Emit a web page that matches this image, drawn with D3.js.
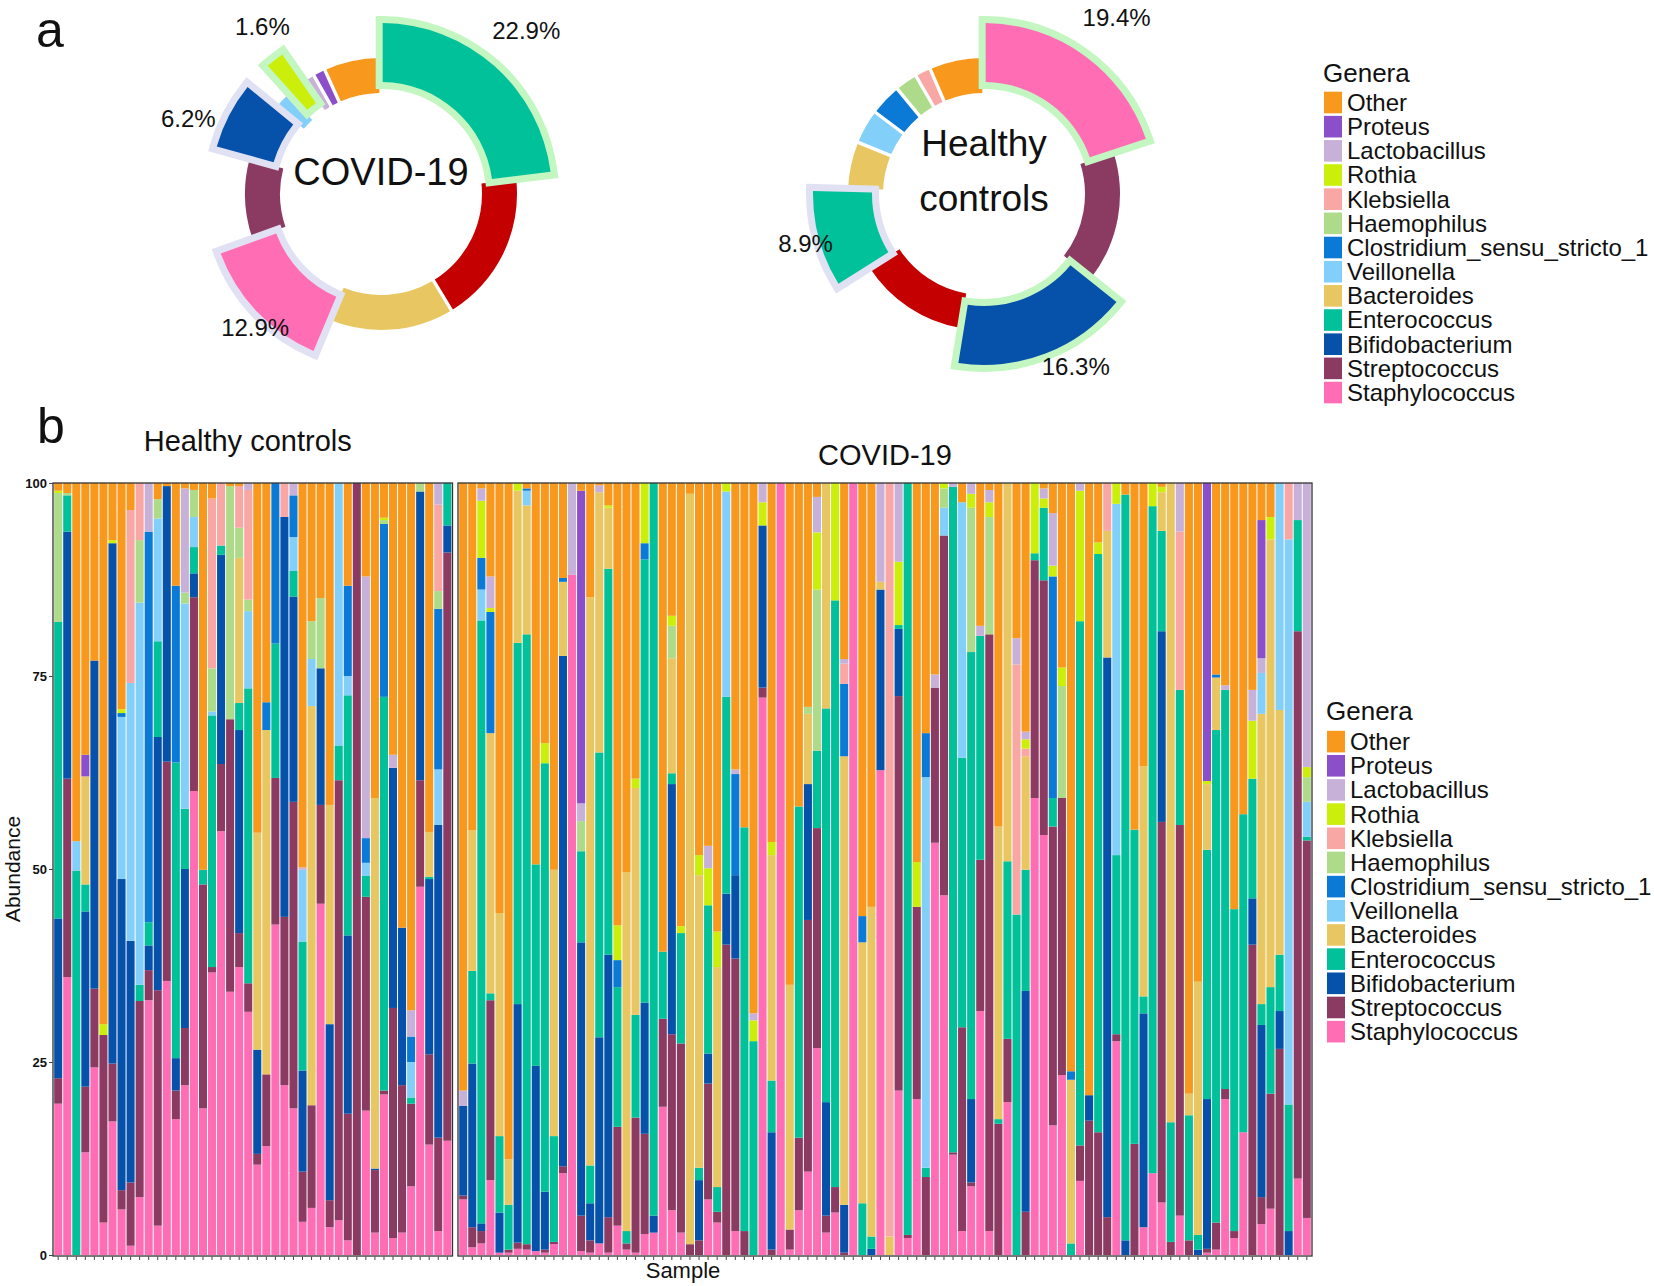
<!DOCTYPE html>
<html><head><meta charset="utf-8">
<script src="https://cdn.jsdelivr.net/npm/d3@7"></script>
<style>html,body{margin:0;padding:0;background:#fff} svg{display:block} text{font-family:"Liberation Sans",Arial,Helvetica,sans-serif;fill:#111}</style>
</head><body><svg id="chart" width="1654" height="1286"></svg>
<script>
// ---------------- DATA ----------------
// stacking order, bottom -> top
const genera = ["Staphylococcus","Streptococcus","Bifidobacterium","Enterococcus","Bacteroides","Veillonella","Clostridium_sensu_stricto_1","Haemophilus","Klebsiella","Rothia","Lactobacillus","Proteus","Other"];
const generaColors = ["#FF6EB4","#8B3A62","#0652AB","#00C19A","#E8C762","#82CFFA","#0A7AD6","#ADDB8A","#F9A7A5","#CBEF0B","#C8B1D9","#8B4FC9","#F8981D"];
const unlistedGenus = "Unlisted";
const unlistedColor = "#C40000";
const legendTitle = "Genera";

// panel a: donut charts (clockwise from 12 o'clock)
const covidPieGenera = ["Enterococcus","Unlisted","Bacteroides","Staphylococcus","Streptococcus","Bifidobacterium","Veillonella","Rothia","Lactobacillus","Proteus","Other"];
const covidPieValues = [22.9,18.0,14.7,12.9,9.5,6.2,2.0,1.6,1.0,1.0,6.4];
const covidHighlighted = {"Enterococcus":"green","Staphylococcus":"lavender","Bifidobacterium":"lavender","Rothia":"green"};

const healthyPieGenera = ["Staphylococcus","Streptococcus","Bifidobacterium","Unlisted","Enterococcus","Bacteroides","Veillonella","Clostridium_sensu_stricto_1","Haemophilus","Klebsiella","Other"];
const healthyPieValues = [19.4,15.3,16.3,13.0,8.9,5.3,3.6,3.3,2.2,1.4,6.0];
const healthyHighlighted = {"Staphylococcus":"green","Bifidobacterium":"green","Enterococcus":"lavender"};

// panel b: relative abundance per sample, columns follow `genera`
const healthyAbundance = [
[19.6,3.3,20.7,38.4,0,0,0,16.7,0,0.3,0,0,1.0],
[36,25.7,32,4.7,0,0,0,0.3,0,0,0,0,1.3],
[0,0,0,49.8,0,3.8,0,0,0,0,0,0,46.4],
[13.3,8.5,22.7,3.5,14,0,0,0,0,0,0,2.8,35.2],
[24.3,10.2,42.5,0,0,0,0,0,0,0,0,0,23],
[4.2,24.3,0,0,0,0,0,0,0,1.4,0,0,70.1],
[17.3,7.5,67.4,0,0,0,0,0,0,0.4,0,0,7.4],
[5.9,2.5,40.3,0,0,21,0.5,0,0,0.5,0,0,29.3],
[1.2,8.2,31.3,0,0,33.4,0,0,22.4,0,0,0,3.5],
[7.5,25.4,0,2.1,0,49.5,0,8.1,7.4,0,0,0,0],
[33,3.9,3.2,3,0,0,50.6,0,0,0,6.3,0,0],
[3.8,30.5,32.8,12.4,0,15.9,0,2.5,0,0,0,0,2.1],
[35.5,28.4,35.7,0,0,0,0,0,0,0,0,0,0.4],
[17.6,3.7,4.2,38.3,0,0,22.9,0,0,0,0,0,13.3],
[22,7.4,20.6,7.8,0,26.6,0,1.4,0,0,13.5,0,0.7],
[60.1,25.1,3.1,3.4,0,3.9,0,3.5,0,0,0,0,0.9],
[19,29,0,1.9,0,0,0,0,0,0,0,0,50.1],
[36.6,0.7,0,32.6,0,0.5,0,5.6,22,0,0,0,2],
[54.9,8.7,27.1,1.2,0,0,0,0,8.1,0,0,0,0],
[34.1,35.3,0,0,0,0,0,30.2,0,0,0,0,0.4],
[37.3,4.4,26.3,3.5,18.8,0,0,3.9,5.4,0,0,0,0.4],
[31.5,3.7,0,38.2,0,10,0,1.5,14.2,0,0.9,0,0],
[11.7,1.4,13.5,0,28.1,0,0,0,0,0,0,0,45.3],
[14.1,9.3,0,0,44.6,0,3.6,0,0,0,0,0,28.4],
[42.8,19,0,17.4,0,0,20.8,0,0,0,0,0,0],
[22,21.8,51.8,0,0,0,0,0,4.4,0,0,0,0],
[19,39.7,26.6,3.3,0,4.4,5.4,0,0,0,1.6,0,0],
[4.3,6.5,13.1,16.7,0,9.3,0,0,0,0,0.3,0,49.8],
[6.1,13.3,0,0,51.7,6.1,0,4.9,0,0,0,0,17.9],
[45.5,12.8,17.7,0,0,0,0,9.1,0,0,0,0,14.9],
[3.6,3.5,22.8,0,28.4,0,0,0,0,0,0,0,41.7],
[4.5,57,0,4.5,0,34,0,0,0,0,0,0,0],
[1.9,16.4,23.1,31.1,0,2.5,11.7,0,0,0,0,0,13.3],
[0,100,0,0,0,0,0,0,0,0,0,0,0],
[18.7,27.7,0,2.7,0,1.7,3.2,0,0,0,33.9,0,12.1],
[2.9,8.1,0.2,0,48,0,0,0,0,0,0,0,40.8],
[20.8,0.5,0,51,0,0,22.4,0.5,0,0.3,0,0,4.5],
[2.2,29.8,31.1,0,0,0,0,0,0,0,1.7,0,35.2],
[2.9,19.1,20.4,0,0,0,0,0,0,0,0,0,57.6],
[8.9,10.7,0,0.8,0,4.6,3.3,0,0,0,3.4,0,68.3],
[47.7,13.8,37.4,0,0,0,0,1.1,0,0,0,0,0],
[14.3,11.7,22.7,0.3,5.8,0,0,0,0,0,0,0,45.2],
[3.1,12.1,40.5,0,0,7.2,20.8,2.3,11.2,0,2.8,0,0],
[14.8,76.2,3.5,5.5,0,0,0,0,0,0,0,0,0]
];
const covidAbundance = [
[7.2,0.5,11.6,0,0,0,0,0,0,0,2,0,78.7],
[1,2.6,21.2,12,18.2,0,0,0,0,0,0,0,45],
[1.5,1.6,1,78.1,0,4,4.1,0,0,7.4,1.6,0,0.7],
[9.7,23.3,0,0.9,33.7,0,15.7,0,0,0.5,4.1,0,12.1],
[0.3,0,5.2,9.9,28.9,0,0,0,0,0,0,0,55.7],
[0.3,0.4,0,5.8,5.9,0,0,0,0,0,0,0,87.6],
[0.8,0.8,30.9,46.8,19.7,0,0,0,0,1,0,0,0],
[0.7,0.7,0,79,16.7,1.9,0.3,0,0,0,0,0,0.7],
[0.5,0,24,26.1,0,0,0,0,0,0,0,0,49.4],
[0.3,0.4,7.5,55.5,0,0,0,0,0,2.6,0,0,33.7],
[1.4,0.3,0,13.7,34.5,0,0,0,0,0,0,0,50.1],
[10.6,0.9,66.1,0,9.6,0,0.5,0,0,0,0,0,12.3],
[88.1,0,0,0,0,0,0,0,0,0,11.9,0,0],
[0.5,4.6,35.4,11.8,0,0,0,3.9,0,0,2.3,40.5,1],
[0.3,1.6,4.8,4.9,73.6,0,0,0,0,0,0,0,14.8],
[1.5,0,26.7,36.9,33.7,0,0,0,0,0,0.9,0,0.3],
[0.3,4.6,34,50,7.9,0,0,0,0,0.3,0,0,2.9],
[3.8,12.8,0,18.1,0,0,3.5,0,0,4.5,0,0,57.3],
[0.7,0.8,0,1.6,46.5,0,0,0,0,0,0,0,50.4],
[0.3,17.5,0,13.3,29.4,0,0,0,0,1.2,0,0,38.3],
[2.7,13,17,57.4,0,0,2.1,0,0,7.8,0,0,0],
[2.9,0,2.2,94.9,0,0,0,0,0,0,0,0,0],
[19.2,11.4,0,8.7,0,0,0,0,0,0,0,0,60.7],
[5.8,22.8,32.4,1.4,14.9,0,0,4.2,0,1.3,0,0,17.2],
[2.9,24.5,0,14.3,0,0,0,0,0,0.9,0,0,57.4],
[0,1.4,0,0,97.2,0,0,0,0,0,0,0,1.4],
[0,1.9,7.8,1.6,37.9,0,0,0,0,2.6,0,0,48.2],
[7.2,15,3.9,19.2,0,0,0,0,0,4.8,2.9,0,47],
[4.2,1.4,0,3.2,28.5,0,0,0,0,4.6,0,0,58.1],
[0,40.2,6.6,25.5,0,26.6,0,0,0,1.1,0,0,0],
[3.1,35.3,10.8,0,0,0,13.1,0,0,0,0.6,0,37.1],
[0,3.1,0,52.3,0,0,0,0,0,0,0,0,44.6],
[0,0,0,27.7,0,0,0,0,0,2.7,0.9,0,68.7],
[72.2,1.3,21,0,0,0,0,0,0,3,2.5,0,0],
[0,0.7,15.2,6.7,29.2,0,0,0,0,1.7,0,0,46.5],
[100,0,0,0,0,0,0,0,0,0,0,0,0],
[0.7,2.6,0,0,31.7,0,0,0,0,0,0,0,65],
[5.8,9.4,0,42.9,0,0,0,0,0,0,0,0,41.9],
[10.8,32.6,17.6,0,9.1,0,0,0.9,0,0,0,0,29],
[26.8,28.5,0,10,0,0,0,20.9,0,7.4,4.6,0,1.8],
[2.9,2.2,14.7,51,29.2,0,0,0,0,0,0,0,0],
[5.5,3.3,0,76,0,0,0,0,0,15.2,0,0,0],
[0,0.3,6.2,0,58.1,0,9.4,0,2.6,0,0.6,0,22.8],
[100,0,0,0,0,0,0,0,0,0,0,0,0],
[0,0,0,6.7,33.8,0,3.4,0,0,0,0,0,56.1],
[0,0,0.8,1.6,42.7,0,0,0,0,0,0,0,54.9],
[62.8,0,23.4,0,1,0,0,0,0,0,12.8,0,0],
[0,0,0,0,2.4,0,0,0,97.6,0,0,0,0],
[21.3,51.1,8.7,0.5,0,0,0,0,0,8.2,10.2,0,0],
[2.2,0.4,0,97.4,0,0,0,0,0,0,0,0,0],
[20.2,24.9,0,0,0,0,0,0,0,5.8,0,0,49.1],
[0,10.1,0,1.2,0,50.6,5.7,0,0,0,0,0,32.4],
[53.4,20.1,0,0,0,0,0,0,0,0,1.7,0,24.8],
[46.6,46.6,0,0,0,3.6,0,2.5,0,0.7,0,0,0],
[13,0.3,0,86.2,0,0,0,0,0,0,0.5,0,0],
[3.1,26.4,0,34.9,0,33.1,0,0,0,0,0,0,2.5],
[8.9,0.5,10.8,57.9,0,0,0,18.7,0,1.8,1.4,0,0],
[31.6,19.6,0,29,0,0,0,0,0,0,1.3,0,18.5],
[3.1,77.3,0,0,0,0,0,15.2,0,1.9,1.6,0,0.9],
[0,17,0,0.6,37.9,0,0,0,0,0,0,0,44.5],
[19.8,8.2,0,23,49,0,0,0,0,0,0,0,0],
[0,0,0,44.1,0,0,0,0,32.4,0,3.4,0,20.1],
[0,5.6,28.6,15.7,14.7,0,0,0,1,1.2,1,0,32.2],
[59.2,30.8,0,0.9,0,0,0,0,0,9.1,0,0,0],
[54.4,33,0,9.4,0,0,0,0,0,1.2,1.3,0,0.7],
[16.8,38.7,0,3.7,0,0,28.7,0,0,1.4,6.8,0,3.9],
[23.3,35.9,0,0,0,0,0,14.5,0,2.4,0,0,23.9],
[0,0,0,1.5,21.2,0,1.1,0,0,0,0,0,76.2],
[9.6,4.6,0,67.9,0,0,0,0,0,16.9,1,0,0],
[0,17.4,3.3,0,0,0,0,0,0,0,0,0,79.3],
[0,15.9,0,74.9,0,0,0,0,0,1.5,0,0,7.7],
[0,4.9,72.5,0,16.4,0,0,0,6.2,0,0,0,0],
[27.7,0.9,0,23.2,0,45.5,0,0,0,2.7,0,0,0],
[0,0,1.9,96.6,0,0,0,0,0,0,0,0,1.5],
[0,14.4,0,40.7,0,0,0,0,0,0,0,0,44.9],
[3.6,0,27.7,2.2,29.8,0,0,0,0,0,0,0,36.7],
[10.6,0,0,86.4,0,0,0,0,0,3,0,0,0],
[6.8,49.3,24.7,13,5,0,0,0,0,0.7,0,0,0.5],
[0,1.7,0,15.5,82.8,0,0,0,0,0,0,0,0],
[5.1,50.6,0,17.5,0,0,0,0,20.5,0,6.3,0,0],
[0,1.9,0,16.2,2.8,0,0,0,0,0,0,0,79.1],
[0,0,0.7,1.9,32.8,0,0,0,0,0,0,0,64.6],
[0.3,0.5,19.4,32.3,8.5,0,0,0,0,0.4,0,38.6,0],
[0.7,3.5,0,63.8,6.8,0,0.4,0,0,0,0,0,24.8],
[20.2,1.3,0,51.7,0,0,0,0,0,0,0.6,0,26.2],
[2.2,0.9,0,41.7,0,0,0,0,0,0,0,0,55.2],
[15.9,0,0,41.2,0,0,0,0,0,0,0,0,42.9],
[0,40.2,6,15.5,0,0,0,0,0,7.5,4,0,26.8],
[4,3.5,22.3,2.7,37.6,5.3,0,0,0,0,1.9,17.9,4.8],
[6,14.9,0,13.8,58,0,0,0,0,2.9,0,0,4.4],
[0,26.7,4.9,7.3,31.7,29.4,0,0,0,0,0,0,0],
[0,0,3.1,16.4,0,73.2,0,0,7.3,0,0,0,0],
[9.9,70.9,0,14.4,0,0,0,0,0,0,4.8,0,0],
[4.8,48.9,0,0.5,0,4.5,0,3.2,0,1.3,36.8,0,0]
];
const yTickValues = [0,25,50,75,100];
const groupTitles = ["Healthy controls","COVID-19"];
const axisTitles = {x:"Sample", y:"Abundance"};

// ---------------- DRAW ----------------
const svg = d3.select("#chart");
const W = 1654, H = 1286;
svg.append("rect").attr("width",W).attr("height",H).attr("fill","#fff");
const FONT = '"Liberation Sans", Arial, Helvetica, sans-serif';
const color = d3.scaleOrdinal().domain([...genera, unlistedGenus]).range([...generaColors, unlistedColor]);
const outlineColors = {green:"#C3F6C1", lavender:"#E1E1F4"};

svg.append("text").attr("x",36).attr("y",47).attr("font-size",50).text("a");
svg.append("text").attr("x",37).attr("y",443).attr("font-size",50).text("b");

// donut helper
function donut(cx, cy, names, values, highlighted, labelCfg, titleLines, titleCfg){
  const g = svg.append("g").attr("transform",`translate(${cx},${cy})`);
  const data = names.map((n,i)=>({name:n, value:values[i]}));
  const pie = d3.pie().sort(null).value(d=>d.value).startAngle(0).endAngle(2*Math.PI).padAngle(0.028);
  const arcs = pie(data);
  const arcN = d3.arc().innerRadius(101).outerRadius(136).padRadius(120);
  const arcE = d3.arc().innerRadius(112).outerRadius(171).padRadius(120);
  arcs.filter(a=>!highlighted[a.data.name]).forEach(a=>{
    g.append("path").attr("d",arcN(a)).attr("fill",color(a.data.name));
  });
  const hl = arcs.filter(a=>highlighted[a.data.name]);
  hl.forEach(a=>{
    const oc = outlineColors[highlighted[a.data.name]];
    g.append("path").attr("d",arcE(a)).attr("fill",oc).attr("stroke",oc)
      .attr("stroke-width",14).attr("stroke-linejoin","miter").attr("stroke-miterlimit",8);
  });
  hl.forEach(a=>{
    g.append("path").attr("d",arcE(a)).attr("fill",color(a.data.name));
  });
  hl.forEach(a=>{
    const cfg = labelCfg[a.data.name] || [200,0];
    const ang = (a.startAngle + a.endAngle)/2 + cfg[1]*Math.PI/180;
    const r = cfg[0];
    g.append("text").attr("x", r*Math.sin(ang)).attr("y", -r*Math.cos(ang)).attr("dy","0.36em")
      .attr("text-anchor","middle").attr("font-size",24).text(d3.format(".1f")(a.data.value)+"%");
  });
  titleLines.forEach((t,i)=>{
    g.append("text").attr("x",0).attr("y",titleCfg.y[i]).attr("text-anchor","middle")
      .attr("font-size",titleCfg.size).text(t);
  });
}
donut(381,194,covidPieGenera,covidPieValues,covidHighlighted,
  {"Enterococcus":[219,0],"Staphylococcus":[183,-3],"Bifidobacterium":[207,-6],"Rothia":[205,3]},
  ["COVID-19"],{y:[-9],size:38});
donut(984,194,healthyPieGenera,healthyPieValues,healthyHighlighted,
  {"Staphylococcus":[221,1],"Bifidobacterium":[195,-7],"Enterococcus":[185,0]},
  ["Healthy","controls"],{y:[-38,17],size:37});

// legends
function legend(x, titleY, firstY){
  const g = svg.append("g");
  g.append("text").attr("x",x-1).attr("y",titleY).attr("font-size",26).text(legendTitle);
  const step = 24.17;
  genera.slice().reverse().forEach((n,i)=>{
    const cy = firstY + i*step;
    g.append("rect").attr("x",x).attr("y",cy-10.8).attr("width",18).attr("height",21.6).attr("fill",color(n));
    g.append("text").attr("x",x+23).attr("y",cy+8.4).attr("font-size",24).text(n);
  });
}
legend(1324, 82, 102.5);
legend(1327, 720, 741.6);

// stacked bars
const y = d3.scaleLinear().domain([0,100]).range([1255,483]);
const stack = d3.stack().keys(genera);
const panels = [
  {title:groupTitles[0], rows:healthyAbundance, x0:53, x1:452.5, titleY:451, prefix:"HC"},
  {title:groupTitles[1], rows:covidAbundance, x0:458, x1:1312, titleY:465, prefix:"CV"}
];
panels.forEach(p=>{
  const recs = p.rows.map((r,i)=>{
    const tot = d3.sum(r);
    const o = {sample:p.prefix+(i+1)};
    genera.forEach((gname,k)=>o[gname]=r[k]/tot*100);
    return o;
  });
  const x = d3.scaleBand().domain(recs.map(d=>d.sample)).range([p.x0+0.8,p.x1-0.8]).paddingInner(0.11).paddingOuter(0.04);
  const series = stack(recs);
  const g = svg.append("g");
  series.forEach(s=>{
    g.selectAll(null).data(s).join("rect")
      .attr("x",d=>x(d.data.sample)).attr("width",x.bandwidth())
      .attr("y",d=>y(d[1])).attr("height",d=>Math.max(0,y(d[0])-y(d[1])))
      .attr("fill",color(s.key));
  });
  g.append("rect").attr("x",p.x0).attr("y",483).attr("width",p.x1-p.x0).attr("height",1256-483)
    .attr("fill","none").attr("stroke","#333").attr("stroke-width",1.3);
  const xa = svg.append("g").attr("transform",`translate(0,1256.5)`)
    .call(d3.axisBottom(x).tickSize(3.5).tickFormat(""));
  xa.select(".domain").remove();
  xa.selectAll("line").attr("stroke","#444");
  svg.append("text").attr("x",(p.x0+p.x1)/2 + (p.prefix==="HC"?-5:0)).attr("y",p.titleY).attr("text-anchor","middle")
    .attr("font-size",29).text(p.title);
});
const ya = svg.append("g").attr("transform","translate(53,0)")
  .call(d3.axisLeft(y).tickValues(yTickValues).tickSize(4).tickPadding(2).tickFormat(d3.format("d")));
ya.select(".domain").remove();
ya.selectAll("line").attr("stroke","#444");
ya.selectAll("text").attr("font-size",13).attr("font-weight","bold").attr("font-family",FONT).attr("fill","#222");

svg.append("text").attr("transform","translate(20,869) rotate(-90)").attr("text-anchor","middle")
  .attr("font-size",21).text(axisTitles.y);
svg.append("text").attr("x",683).attr("y",1278).attr("text-anchor","middle").attr("font-size",22).text(axisTitles.x);
</script></body></html>
